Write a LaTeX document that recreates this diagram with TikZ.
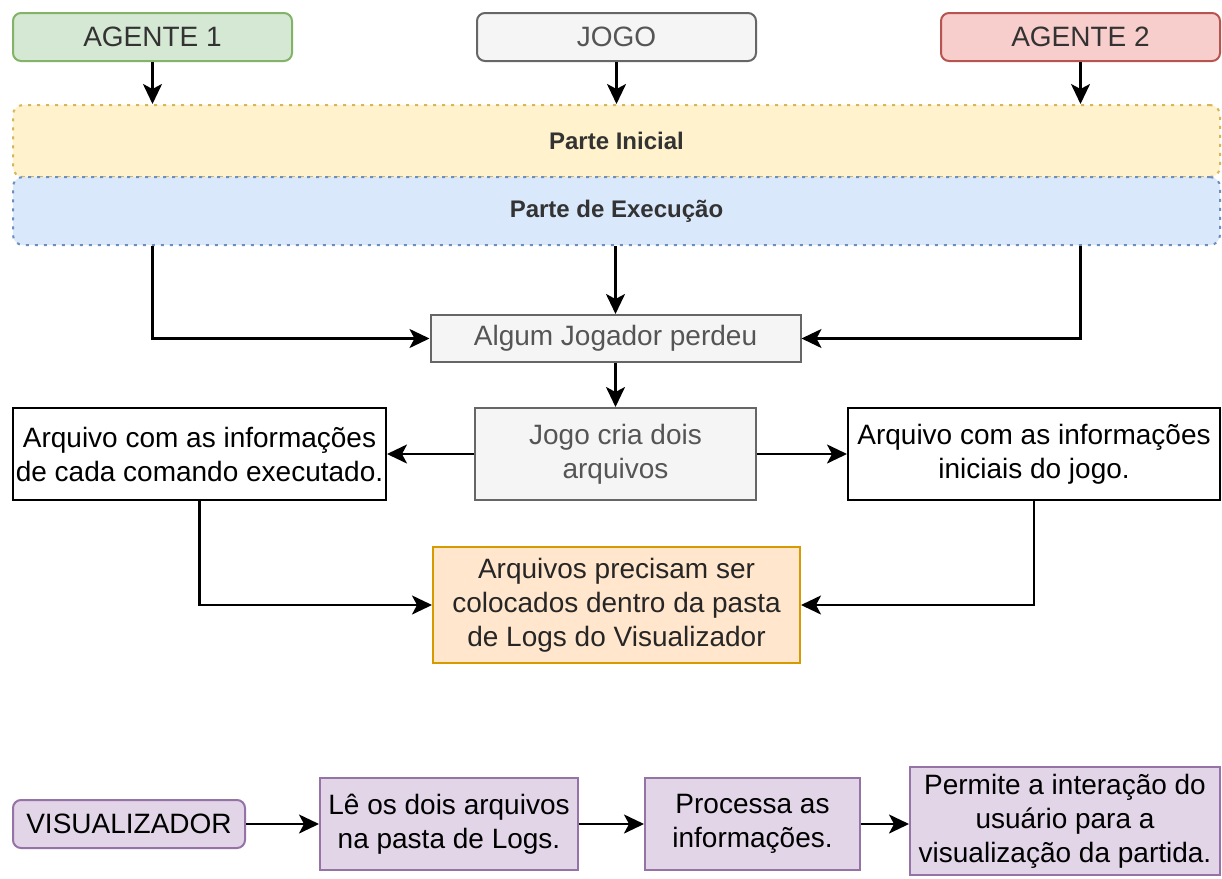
\documentclass[tikz,border=0pt]{standalone}
\usepackage{fontspec}
\setmainfont{Liberation Sans}
\usetikzlibrary{arrows.meta}

\definecolor{verdeF}{HTML}{D5E8D4}\definecolor{verdeB}{HTML}{82B366}
\definecolor{cinzaF}{HTML}{F5F5F5}\definecolor{cinzaB}{HTML}{666666}
\definecolor{vermF}{HTML}{F8CECC}\definecolor{vermB}{HTML}{B85450}
\definecolor{amarF}{HTML}{FFF2CC}\definecolor{amarB}{HTML}{D6B656}
\definecolor{azulF}{HTML}{DAE8FC}\definecolor{azulB}{HTML}{6C8EBF}
\definecolor{laraF}{HTML}{FFE6CC}\definecolor{laraB}{HTML}{D79B00}
\definecolor{roxoF}{HTML}{E1D5E7}\definecolor{roxoB}{HTML}{9673A6}
\definecolor{textoC}{HTML}{555555}

\tikzset{
  caixa/.style={draw, line width=2pt, inner sep=0pt, align=center,
    font=\fontsize{28}{34}\selectfont},
  agente/.style={caixa, rounded corners=8pt, minimum width=279pt, minimum height=48pt},
  fase/.style={draw, line width=2pt, dash pattern=on 3pt off 6pt, rounded corners=10pt,
    inner sep=0pt, minimum width=1207pt, font=\fontsize{24}{28}\selectfont\bfseries},
  seta/.style={line width=2.3pt, -{Stealth[length=20pt,width=19pt,inset=5pt]}}
}

\begin{document}
\begin{tikzpicture}[x=1pt,y=-1pt]
    \useasboundingbox (0,0) rectangle (1222,878);

    % Topo: agentes e jogo
    \node [agente, fill=verdeF, draw=verdeB, text=black!80] (agente1) at (152.5,37) {AGENTE 1};
    \node [agente, fill=cinzaF, draw=cinzaB, text=textoC] (jogo) at (616.5,37) {JOGO};
    \node [agente, fill=vermF, draw=vermB, text=black!80] (agente2) at (1080.5,37) {AGENTE 2};

    % Partes
    \node [fase, fill=amarF, draw=amarB, minimum height=72pt, text=black!80] (inicial) at (616.5,141) {Parte Inicial};
    \node [fase, fill=azulF, draw=azulB, minimum height=68pt, text=black!80] (execucao) at (616.5,211) {Parte de Execução};

    \draw [seta] (agente1.south) -- (agente1.south |- inicial.north);
    \draw [seta] (jogo.south) -- (jogo.south |- inicial.north);
    \draw [seta] (agente2.south) -- (agente2.south |- inicial.north);

    % Fim do jogo
    \node [caixa, fill=cinzaF, draw=cinzaB, text=textoC, minimum width=370pt, minimum height=47pt] (perdeu) at (615.5,338.5) {Algum Jogador perdeu};
    \node [caixa, fill=cinzaF, draw=cinzaB, text=textoC, minimum width=281pt, minimum height=92pt] (cria) at (615.5,454) {Jogo cria dois\\arquivos};
    \node [caixa, fill=white, draw=black, minimum width=373pt, minimum height=92pt] (comandos) at (199.5,454) {Arquivo com as informações\\de cada comando executado.};
    \node [caixa, fill=white, draw=black, minimum width=372pt, minimum height=92pt] (iniciais) at (1034,454) {Arquivo com as informações\\iniciais do jogo.};
    \node [caixa, fill=laraF, draw=laraB, minimum width=367pt, minimum height=116pt, text=black!85] (pasta) at (616.5,605) {Arquivos precisam ser\\colocados dentro da pasta\\de Logs do Visualizador};

    \draw [seta] (execucao.south -| agente1.south) |- (perdeu.west);
    \draw [seta] (execucao.south -| perdeu.north) -- (perdeu.north);
    \draw [seta] (execucao.south -| agente2.south) |- (perdeu.east);
    \draw [seta] (perdeu.south) -- (cria.north);
    \draw [seta] (cria.west) -- (comandos.east);
    \draw [seta] (cria.east) -- (iniciais.west);
    \draw [seta] (comandos.south) |- (pasta.west);
    \draw [seta] (iniciais.south) |- (pasta.east);

    % Visualizador
    \node [caixa, fill=roxoF, draw=roxoB, rounded corners=8pt, minimum width=232pt, minimum height=48pt] (visual) at (129,824) {VISUALIZADOR};
    \node [caixa, fill=roxoF, draw=roxoB, minimum width=258pt, minimum height=92pt] (le) at (449,824) {Lê os dois arquivos\\na pasta de Logs.};
    \node [caixa, fill=roxoF, draw=roxoB, minimum width=215pt, minimum height=92pt] (processa) at (752.5,824) {Processa as\\informações.};
    \node [caixa, fill=roxoF, draw=roxoB, minimum width=310pt, minimum height=108pt] (permite) at (1065,821) {Permite a interação do\\usuário para a\\visualização da partida.};

    \draw [seta] (visual) -- (le);
    \draw [seta] (le) -- (processa);
    \draw [seta] (processa.east) -- (processa.east -| permite.west);
\end{tikzpicture}
\end{document}
